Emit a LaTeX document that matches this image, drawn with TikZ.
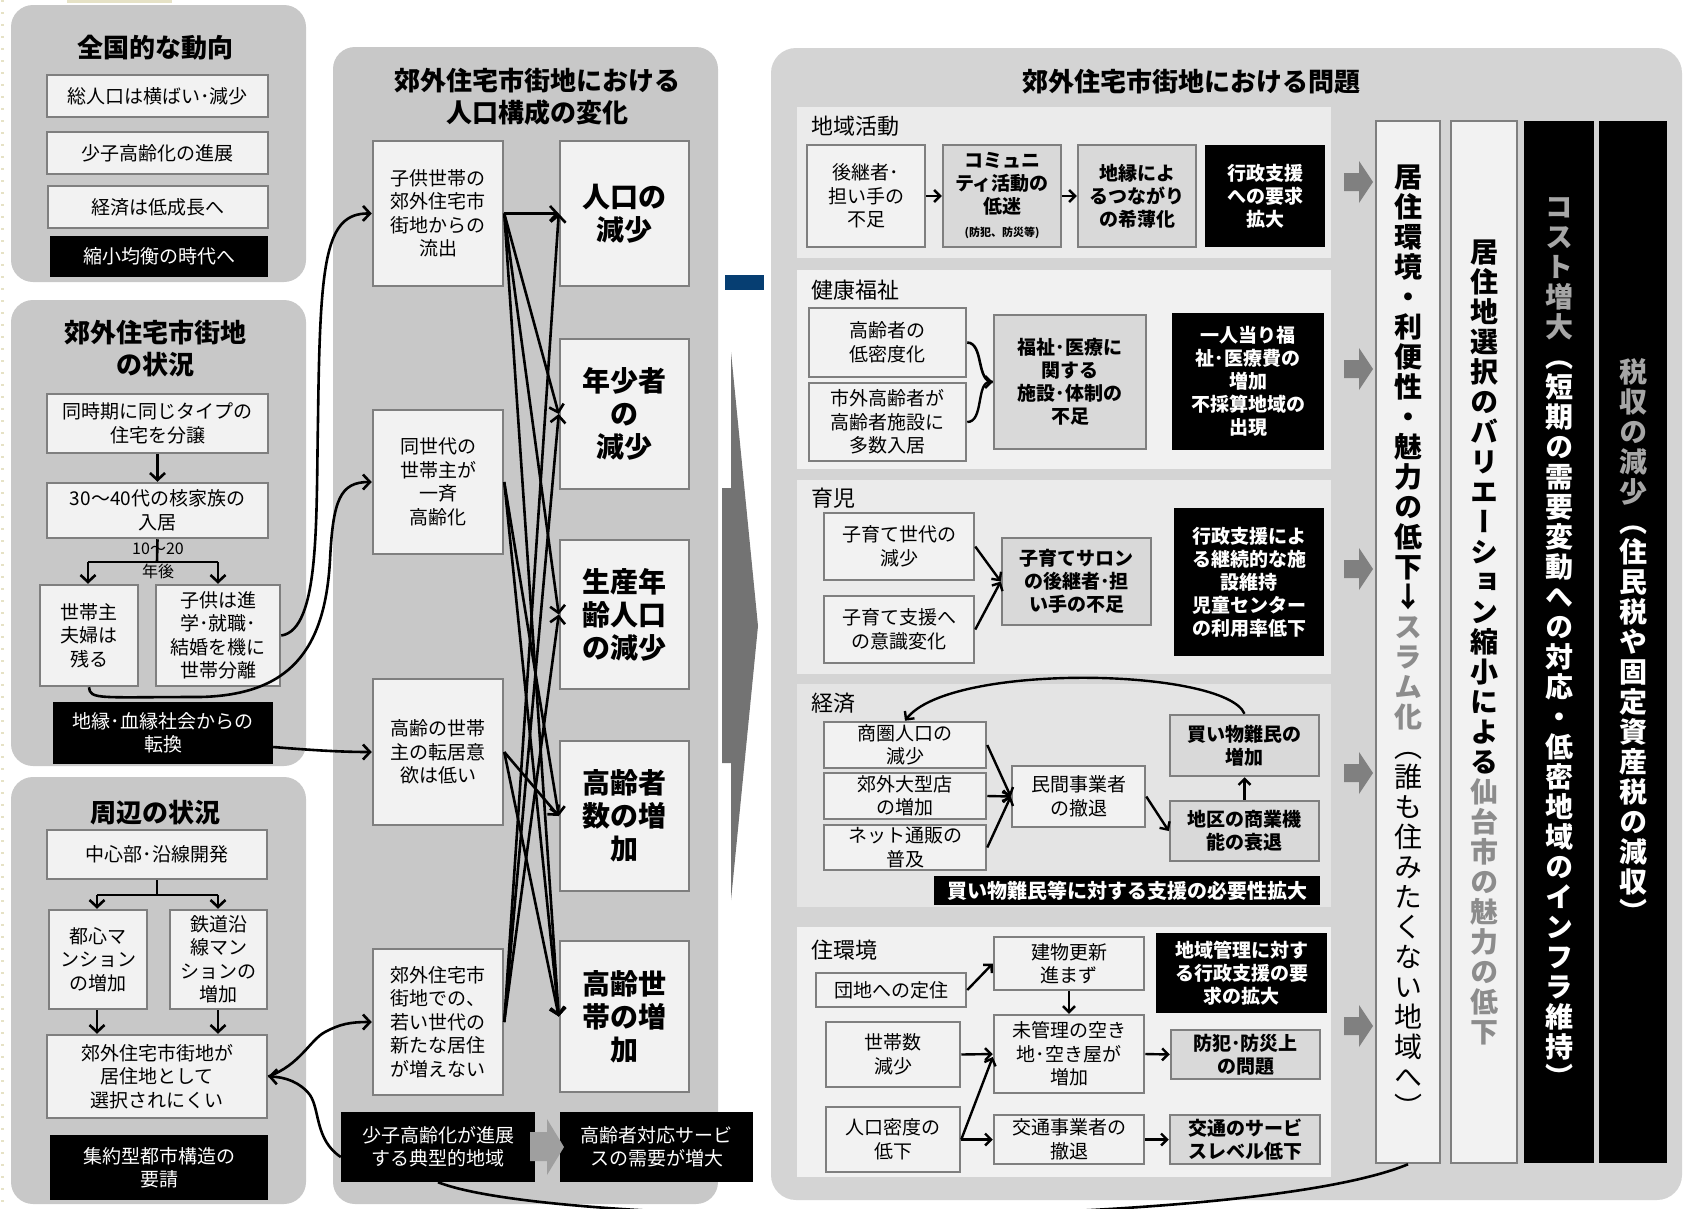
\documentclass[tikz,border=0pt]{standalone}
\usepackage{fontspec}
\setmainfont{Noto Sans CJK JP}
\newfontfamily\vjp[RawFeature=+vert]{Noto Sans CJK JP}
\usetikzlibrary{arrows.meta,calc}
\definecolor{pnl}{HTML}{C8C8C8}
\definecolor{pnlR}{HTML}{D4D4D4}
\definecolor{bxf}{HTML}{F2F2F2}
\definecolor{bxb}{HTML}{7F7F7F}
\definecolor{gbf}{HTML}{D9D9D9}
\definecolor{navy}{RGB}{6,62,114}
\definecolor{chev}{HTML}{737373}
\definecolor{subA}{HTML}{EBEBEB}
\definecolor{subB}{HTML}{F1F1F1}
\definecolor{subC}{HTML}{E4E4E4}
\definecolor{slg}{HTML}{8C8C8C}
\definecolor{cg}{HTML}{A6A6A6}
\definecolor{garrc}{HTML}{808080}
\definecolor{beige}{HTML}{E6E2C6}
\newcommand\fs[2]{\fontsize{#1}{#2}\selectfont}
\makeatletter
\newcommand\vtx[2]{\@tfor\vt@c:=#2\do{\hbox to 32pt{\color{#1}\hss\vrule height 25pt depth 5pt width 0pt\vt@c\hss}}}
\makeatother
\newcommand\garrow[1]{\fill[garrc] (1344,{#1-9}) -- (1359,{#1-9}) -- (1359,{#1-21}) -- (1373,#1) -- (1359,{#1+21}) -- (1359,{#1+9}) -- (1344,{#1+9}) -- cycle;}
% box from corners: name, style, x1, y1, x2, y2, text
\newcommand\bx[7]{\node[#2, minimum width={#5-#3}, minimum height={#6-#4}] (#1) at ({(#3+#5)/2},{(#4+#6)/2}) {#7};}
\begin{document}
\begin{tikzpicture}[x=1pt,y=-1pt,
  every node/.style={inner sep=0pt},
  box/.style={draw=bxb, line width=2.5pt, fill=bxf, align=center, font=\fs{19}{23.5}},
  gbx/.style={box, fill=gbf, font=\bfseries\fs{19}{23}},
  blk/.style={fill=black, text=white, align=center, font=\fs{19}{23}},
  bblk/.style={blk, font=\bfseries\fs{19}{23}},
  big/.style={box, font=\bfseries\fs{28}{33}},
  ttl/.style={font=\bfseries\fs{26}{32}, align=center},
  sub/.style={anchor=west, font=\fs{22}{26}},
  ln/.style={line width=2.6pt},
  arr/.style={line width=2.6pt, -{Straight Barb[length=7pt,width=15pt]}},
  sarr/.style={line width=2.4pt, -{Straight Barb[length=6pt,width=12pt]}},
  colw/.style={draw=bxb, line width=2.5pt, fill=bxf},
  colk/.style={fill=black}]
\useasboundingbox (0,0) rectangle (1683,1208);
\clip (0,0) rectangle (1683,1208);
\fill[white] (0,0) rectangle (1683,1208);
% edge decorations
\fill[beige] (67,0) rectangle (172,3);
\draw[beige, line width=3pt, dash pattern=on 2pt off 10pt] (2,0) -- (2,1208);
% panels
\fill[pnl, rounded corners=22pt] (11,5) rectangle (306,282);
\fill[pnl, rounded corners=22pt] (11,300) rectangle (306,766);
\fill[pnl, rounded corners=22pt] (11,777) rectangle (306,1204);
\fill[pnl, rounded corners=22pt] (333,47) rectangle (718,1204);
\fill[pnlR, rounded corners=25pt] (771,48) rectangle (1682,1200);
\fill[subA] (797,107) rectangle (1331,258);
\fill[subB] (797,270) rectangle (1331,469);
\fill[subA] (797,480) rectangle (1331,674);
\fill[subC] (797,684) rectangle (1331,907);
\fill[subB] (797,927) rectangle (1331,1177);
% ---------- panel 1
\node[ttl] (t1) at (155,48) {全国的な動向};
\bx{n11}{box}{47}{75}{268}{117}{総人口は横ばい･減少}
\bx{n12}{box}{47}{132}{268}{174}{少子高齢化の進展}
\bx{n13}{box}{48}{186}{268}{228}{経済は低成長へ}
\bx{n14}{blk}{50}{236}{268}{277}{縮小均衡の時代へ}
% ---------- panel 2
\node[ttl] (t2) at (155,349) {郊外住宅市街地\\の状況};
\bx{n21}{box}{47}{394}{268}{453}{同時期に同じタイプの\\住宅を分譲}
\bx{n22}{box}{47}{483}{268}{538}{30～40代の核家族の\\入居}
\bx{n23}{box}{40}{585}{138}{686}{世帯主\\夫婦は\\残る}
\bx{n24}{box}{156}{585}{280}{686}{子供は進\\学･就職･\\結婚を機に\\世帯分離}
\bx{n25}{blk}{53}{702}{273}{764}{地縁･血縁社会からの\\転換}
\draw[arr] (n21.south) -- (n22.north);
\coordinate (j1) at (157,562);
\coordinate (j1l) at (88,562);
\coordinate (j1r) at (218,562);
\draw[ln] (n22.south) -- (j1);
\draw[ln] (j1l) -- (j1r);
\draw[arr] (j1l) -- (j1l |- n23.north);
\draw[arr] (j1r) -- (j1r |- n24.north);
\node[font=\fs{16}{23}, align=center] (lab) at (158,561) {10～20\\年後};
% ---------- panel 3
\node[ttl] (t3) at (155,813) {周辺の状況};
\bx{n31}{box}{47}{830}{267}{879}{中心部･沿線開発}
\bx{n32}{box}{49}{910}{147}{1009}{都心マ\\ンション\\の増加}
\bx{n33}{box}{170}{910}{267}{1009}{鉄道沿\\線マン\\ションの\\増加}
\bx{n34}{box}{47}{1035}{267}{1118}{郊外住宅市街地が\\居住地として\\選択されにくい}
\bx{n35}{blk}{50}{1135}{268}{1200}{集約型都市構造の\\要請}
\coordinate (j2) at (157,895);
\coordinate (j2l) at (97,895);
\coordinate (j2r) at (218,895);
\draw[ln] (n31.south) -- (j2);
\draw[ln] (j2l) -- (j2r);
\draw[arr] (j2l) -- (j2l |- n32.north);
\draw[arr] (j2r) -- (j2r |- n33.north);
\draw[arr] (n32.south -| j2l) -- (j2l |- n34.north);
\draw[arr] (n33.south -| j2r) -- (j2r |- n34.north);
% ---------- middle panel
\node[ttl] (t4) at (537,97) {郊外住宅市街地における\\人口構成の変化};
\bx{A}{box}{373}{141}{503}{286}{子供世帯の\\郊外住宅市\\街地からの\\流出}
\bx{B}{box}{373}{410}{503}{554}{同世代の\\世帯主が\\一斉\\高齢化}
\bx{C}{box}{373}{679}{503}{825}{高齢の世帯\\主の転居意\\欲は低い}
\bx{D}{box}{373}{949}{503}{1095}{郊外住宅市\\街地での、\\若い世代の\\新たな居住\\が増えない}
\bx{R1}{big}{560}{141}{689}{286}{人口の\\減少}
\bx{R2}{big}{560}{339}{689}{489}{年少者\\の\\減少}
\bx{R3}{big}{560}{540}{689}{689}{生産年\\齢人口\\の減少}
\bx{R4}{big}{560}{741}{689}{891}{高齢者\\数の増\\加}
\bx{R5}{big}{560}{941}{689}{1092}{高齢世\\帯の増\\加}
\foreach \s/\t in {A/R1,A/R2,A/R3,A/R5,B/R4,B/R5,C/R4,C/R5,D/R1,D/R2,D/R3}
  \draw[arr] (\s.east) -- (\t.west);
\bx{K1}{blk}{341}{1112}{535}{1182}{少子高齢化が進展\\する典型的地域}
\bx{K2}{blk}{560}{1112}{753}{1182}{高齢者対応サービ\\スの需要が増大}
\fill[gray!75] (530,1132) -- (547,1132) -- (547,1119) -- (564,1147) -- (547,1175) -- (547,1161) -- (530,1161) -- cycle;
% left curves
\draw[arr] (n24.east) .. controls (320,630) and (316,520) .. (318,420) .. controls (320,260) and (325,213) .. (A.west);
\draw[arr] (n23.south) .. controls (90,700) and (100,697) .. (200,697) .. controls (290,695) and (325,650) .. (330,560) .. controls (333,500) and (340,482) .. (B.west);
\draw[arr] ([yshift=-14pt]n25.east) .. controls (310,750) and (340,752) .. (C.west);
\draw[arr] (n34.east) .. controls (300,1065) and (310,1040) .. (325,1032) .. controls (340,1024) and (350,1022) .. (D.west);
\draw[arr] ([yshift=-10pt]K1.west) .. controls (315,1140) and (320,1110) .. (310,1095) .. controls (300,1082) and (285,1077) .. (n34.east);
% separator and chevron
\fill[navy] (725,275) rectangle (764,290);
\fill[chev] (731,352) -- (758,626) -- (731,900) -- (731,763) -- (722,763) -- (722,488) -- (731,488) -- cycle;
% ---------- right panel
\node[ttl] (t5) at (1191,82) {郊外住宅市街地における問題};
% 地域活動
\node[sub] (s1) at (811,126) {地域活動};
\bx{a1}{box}{807}{145}{925}{247}{後継者･\\担い手の\\不足}
\bx{a2}{gbx}{943}{145}{1061}{247}{コミュニ\\ティ活動の\\低迷\\{\fs{11}{14}(防犯、防災等)}}
\bx{a3}{gbx}{1078}{145}{1196}{247}{地縁によ\\るつながり\\の希薄化}
\bx{a4}{bblk}{1205}{145}{1325}{247}{行政支援\\への要求\\拡大}
\draw[sarr] (a1.east) -- (a2.west);
\draw[sarr] (a2.east) -- (a3.west);
% 健康福祉
\node[sub] (s2) at (811,290) {健康福祉};
\bx{b1}{box}{809}{308}{966}{377}{高齢者の\\低密度化}
\bx{b2}{box}{809}{383}{966}{461}{市外高齢者が\\高齢者施設に\\多数入居}
\bx{b3}{gbx}{994}{315}{1146}{449}{福祉･医療に\\関する\\施設･体制の\\不足}
\bx{b4}{bblk}{1172}{313}{1324}{450}{一人当り福\\祉･医療費の\\増加\\不採算地域の\\出現}
\draw[ln] (b1.east) .. controls (984,343) and (976,382) .. (b3.west);
\draw[sarr] (b2.east) .. controls (984,422) and (976,382) .. (b3.west);
% 育児
\node[sub] (s3) at (811,498) {育児};
\bx{c1}{box}{824}{513}{974}{580}{子育て世代の\\減少}
\bx{c2}{box}{824}{596}{974}{663}{子育て支援へ\\の意識変化}
\bx{c3}{gbx}{1002}{538}{1151}{625}{子育てサロン\\の後継者･担\\い手の不足}
\bx{c4}{bblk}{1174}{508}{1324}{656}{行政支援によ\\る継続的な施\\設維持\\児童センター\\の利用率低下}
\draw[sarr] (c1.east) -- (c3.west);
\draw[sarr] (c2.east) -- (c3.west);
% 経済
\node[sub] (s4) at (811,703) {経済};
\bx{d1}{box}{824}{722}{986}{768}{商圏人口の\\減少}
\bx{d2}{box}{824}{773}{986}{819}{郊外大型店\\の増加}
\bx{d3}{box}{824}{825}{986}{870}{ネット通販の\\普及}
\bx{d4}{box}{1012}{766}{1145}{827}{民間事業者\\の撤退}
\bx{d5}{gbx}{1170}{715}{1319}{776}{買い物難民の\\増加}
\bx{d6}{gbx}{1170}{801}{1319}{861}{地区の商業機\\能の衰退}
\bx{d7}{bblk, font=\bfseries\fs{20}{24}}{934}{876}{1320}{905}{買い物難民等に対する支援の必要性拡大}
\draw[sarr] (d1.east) -- (d4.west);
\draw[sarr] (d2.east) -- (d4.west);
\draw[sarr] (d3.east) -- (d4.west);
\draw[sarr] (d4.east) -- (d6.west);
\draw[sarr] (d6.north) -- (d5.south);
\draw[sarr] (d5.north) .. controls (1225,668) and (950,662) .. (d1.north);
% 住環境
\node[sub] (s5) at (811,950) {住環境};
\bx{e1}{box}{816}{973}{966}{1007}{団地への定住}
\bx{e2}{box}{994}{937}{1144}{990}{建物更新\\進まず}
\bx{e3}{bblk}{1156}{933}{1327}{1013}{地域管理に対す\\る行政支援の要\\求の拡大}
\bx{e4}{box}{826}{1022}{960}{1087}{世帯数\\減少}
\bx{e5}{box}{994}{1015}{1144}{1093}{未管理の空き\\地･空き屋が\\増加}
\bx{e6}{gbx}{1171}{1030}{1320}{1079}{防犯･防災上\\の問題}
\bx{e7}{box}{826}{1107}{960}{1172}{人口密度の\\低下}
\bx{e8}{box}{994}{1115}{1144}{1164}{交通事業者の\\撤退}
\bx{e9}{gbx}{1170}{1115}{1320}{1164}{交通のサービ\\スレベル低下}
\draw[sarr] (e1.east) -- (e2.west);
\draw[sarr] (e2.south) -- (e5.north);
\draw[sarr] (e4.east) -- (e5.west);
\draw[sarr] (e7.east) -- ([yshift=-3pt]e5.west);
\draw[sarr] (e7.east) -- (e8.west);
\draw[sarr] (e5.east) -- (e6.west);
\draw[sarr] (e8.east) -- (e9.west);
% gray arrows to columns
\garrow{182}
\garrow{369}
\garrow{569}
\garrow{773}
\garrow{1026}
% columns
\bx{v1}{colw}{1376}{121}{1440}{1163}{\vbox{\offinterlineskip\vjp\fs{28}{30}\bfseries\vtx{black}{居住環境・利便性・魅力の低下↓}\vtx{slg}{スラム化}\mdseries\vtx{black}{（誰も住みたくない地域へ）}}}
\bx{v2}{colw}{1451}{121}{1517}{1163}{\vbox{\offinterlineskip\vjp\fs{28}{30.5}\bfseries\vtx{black}{居住地選択のバリエーション縮小による}\vtx{slg}{仙台市の魅力の低下}}}
\bx{v3}{colk}{1524}{121}{1594}{1163}{\vbox{\offinterlineskip\vjp\fs{28}{30}\bfseries\vtx{cg}{コスト増大}\vtx{white}{（短期の需要変動への対応・低密地域のインフラ維持）}}}
\bx{v4}{colk}{1599}{121}{1667}{1163}{\vbox{\offinterlineskip\vjp\fs{28}{30.5}\bfseries\vtx{cg}{税収の減少}\vtx{white}{（住民税や固定資産税の減収）}}}
% bottom long curve
\draw[ln] (K1.south) .. controls (560,1230) and (1250,1230) .. (v1.south);
\end{tikzpicture}
\end{document}
